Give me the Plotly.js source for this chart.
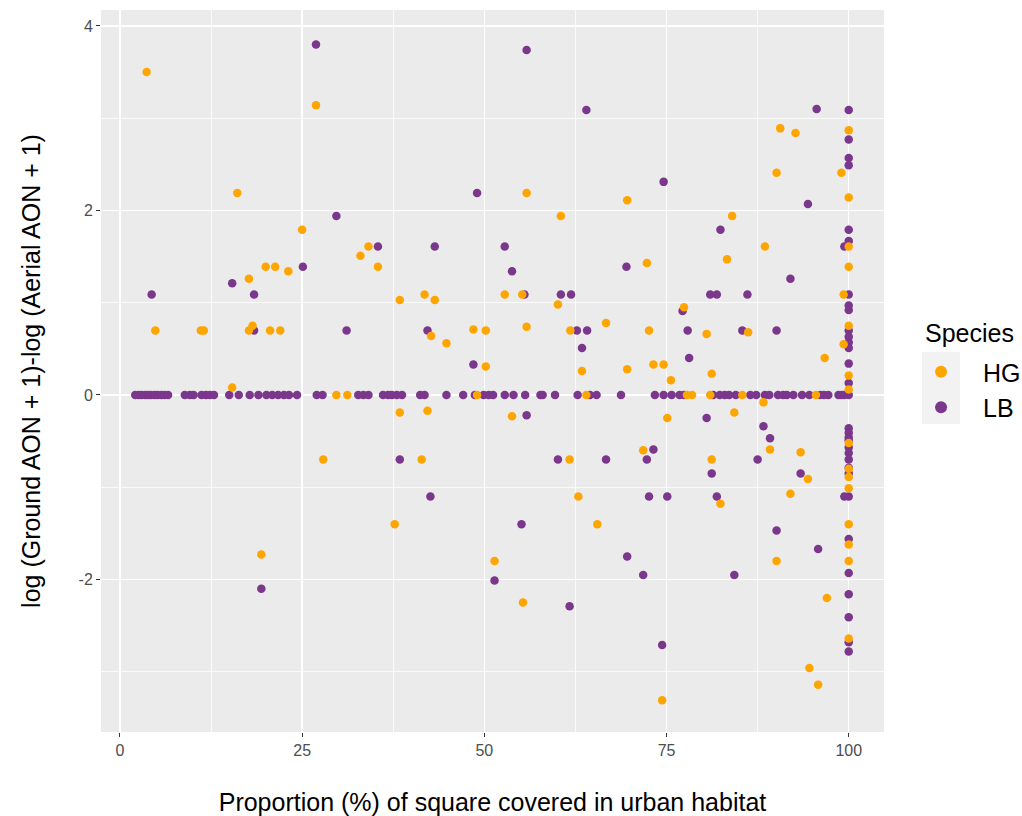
<!DOCTYPE html>
<html>
<head>
<meta charset="utf-8">
<script src="https://cdn.plot.ly/plotly-3.0.1.min.js"></script>
<style>html,body{margin:0;padding:0;background:#fff;}#chart{width:1022px;height:816px;}</style>
</head>
<body>
<div id="chart"></div>
<script>
// Species HG (orange)
const hgX = [3.66, 26.9, 16.1, 25.0, 34.1, 55.8, 69.6, 60.5, 90.6, 92.7, 100, 90.1, 99.0, 100, 84.0, 100, 88.5,
  33.0, 20.0, 21.3, 23.1, 17.7, 4.85, 11.1, 11.5, 17.7, 18.2, 20.6, 22.0, 15.4, 29.7, 31.2, 27.9,
  35.4, 38.4, 41.8, 43.2, 52.8, 55.2, 60.1, 42.7, 44.8, 48.5, 50.2, 55.8, 61.8, 66.7, 50.2, 63.4, 69.6,
  49.0, 64.0, 38.4, 42.2, 53.8, 41.4, 61.7, 100, 72.3, 83.3, 99.3, 77.4, 72.6, 80.5, 86.2, 100, 99.3,
  96.7, 73.2, 74.6, 75.6, 81.2, 100, 100, 77.8, 78.5, 81.0, 85.4, 95.5, 88.3, 84.3, 75.1, 89.2, 93.4,
  71.8, 81.2, 94.4, 100, 100, 100, 100, 19.4, 37.7, 62.9, 65.5, 51.4, 55.3, 82.4, 92.0, 100, 100, 100,
  100, 90.1, 97.0, 94.6, 95.8, 74.4];
const hgY = [3.50, 3.14, 2.19, 1.79, 1.61, 2.19, 2.11, 1.94, 2.89, 2.84, 2.87, 2.41, 2.41, 2.14, 1.94, 1.61, 1.61,
  1.51, 1.39, 1.39, 1.34, 1.26, 0.70, 0.70, 0.70, 0.70, 0.75, 0.70, 0.70, 0.08, 0, 0, -0.70,
  1.39, 1.03, 1.09, 1.03, 1.09, 1.09, 0.98, 0.64, 0.56, 0.71, 0.70, 0.74, 0.70, 0.78, 0.31, 0.26, 0.28,
  0, 0, -0.19, -0.17, -0.23, -0.70, -0.70, 1.39, 1.43, 1.47, 1.09, 0.95, 0.70, 0.66, 0.68, 0.75, 0.55,
  0.40, 0.33, 0.33, 0.16, 0.23, 0.21, 0.06, 0, 0, 0, 0, 0, -0.08, -0.19, -0.25, -0.59, -0.62,
  -0.60, -0.70, -0.91, -0.52, -0.80, -0.89, -1.01, -1.73, -1.40, -1.10, -1.40, -1.80, -2.25, -1.18, -1.07, -1.40, -1.62, -1.80,
  -2.64, -1.80, -2.20, -2.96, -3.14, -3.31];

// Species LB (purple)
const lbX = [26.9, 29.7, 55.8, 64.0, 49.0, 35.4, 43.2, 52.8, 95.6, 100, 100, 100, 100, 74.6, 94.4, 82.4, 100, 100, 99.4,
  25.1, 15.4, 4.35, 18.4, 18.4, 31.1, 53.8, 69.5, 55.5, 60.5, 61.9, 42.2, 62.7, 64.1, 63.4, 48.5, 55.8,
  38.4, 60.1, 66.7, 92.0, 81.0, 81.9, 86.1, 100, 100, 100, 77.2, 77.9, 85.4, 90.1, 100, 100, 100, 100,
  78.1, 100, 100, 80.5, 88.3, 89.2, 73.2, 72.3, 87.5, 81.2, 93.4,
  100, 100, 100, 100, 100, 100, 100, 100, 100,
  19.4, 42.6, 55.1, 69.6, 51.4, 61.7, 72.6, 75.1, 81.9, 99.4, 100,
  100, 100, 100, 100, 100, 100, 90.1, 95.8, 71.8, 84.3, 74.4,
  2.1, 2.6, 3.0, 3.5, 3.9, 4.3, 4.8, 5.2, 5.7, 6.1, 6.6, 8.9, 9.6, 10.1, 11.2, 11.8, 12.35, 12.9,
  15.0, 16.3, 17.8, 19.0, 20.1, 20.9, 21.7, 22.5, 23.2, 24.3, 27.0, 27.8, 32.7, 33.4, 34.1,
  36.1, 36.8, 37.3, 38.0, 38.7, 41.2, 41.8, 44.8, 47.1, 48.7, 49.9, 50.6, 51.2, 52.8, 54.0, 55.6,
  57.7, 58.0, 59.7, 62.8, 64.5, 65.4, 68.75, 73.4, 74.6, 75.7, 76.8, 77.4, 81.4, 82.3, 83.0, 83.6,
  84.5, 86.5, 87.3, 88.5, 89.1, 90.3, 91.0, 91.5, 92.4, 93.6, 94.6, 96.1, 96.6, 97.2, 98.6, 99.0, 99.4, 100];
const lbY = [3.80, 1.94, 3.74, 3.09, 2.19, 1.61, 1.61, 1.61, 3.10, 3.09, 2.77, 2.57, 2.49, 2.31, 2.07, 1.79, 1.79, 1.67, 1.61,
  1.39, 1.21, 1.09, 1.09, 0.70, 0.70, 1.34, 1.39, 1.09, 1.09, 1.09, 0.70, 0.70, 0.70, 0.51, 0.33, -0.22,
  -0.70, -0.70, -0.70, 1.26, 1.09, 1.09, 1.09, 1.09, 0.97, 0.92, 0.91, 0.70, 0.70, 0.70, 0.70, 0.63, 0.57, 0.51,
  0.40, 0.34, 0.13, -0.25, -0.34, -0.47, -0.59, -0.70, -0.70, -0.85, -0.85,
  -0.36, -0.41, -0.46, -0.49, -0.57, -0.63, -0.70, -0.79, -0.85,
  -2.10, -1.10, -1.40, -1.75, -2.01, -2.29, -1.10, -1.10, -1.10, -1.10, -1.10,
  -1.56, -1.93, -2.16, -2.41, -2.68, -2.78, -1.47, -1.67, -1.95, -1.95, -2.71,
  0, 0, 0, 0, 0, 0, 0, 0, 0, 0, 0, 0, 0, 0, 0, 0, 0, 0,
  0, 0, 0, 0, 0, 0, 0, 0, 0, 0, 0, 0, 0, 0, 0,
  0, 0, 0, 0, 0, 0, 0, 0, 0, 0, 0, 0, 0, 0, 0, 0,
  0, 0, 0, 0, 0, 0, 0, 0, 0, 0, 0, 0, 0, 0, 0, 0,
  0, 0, 0, 0, 0, 0, 0, 0, 0, 0, 0, 0, 0, 0, 0, 0, 0, 0];

const xTicks = [0, 25, 50, 75, 100];
const yTicks = [-2, 0, 2, 4];
const legendTitle = 'Species';

const ORANGE = '#FFA500';
const PURPLE = '#7A378B';
const FONT = 'Liberation Sans, Arial, sans-serif';

const traces = [
  {type: 'scatter', mode: 'markers', name: 'LB', x: lbX, y: lbY, legendrank: 2,
   marker: {color: PURPLE, size: 8.5, line: {width: 0}}},
  {type: 'scatter', mode: 'markers', name: 'HG', x: hgX, y: hgY, legendrank: 1,
   marker: {color: ORANGE, size: 8.5, line: {width: 0}}}
];

const layout = {
  width: 1022, height: 816,
  margin: {l: 101, r: 138, t: 10, b: 84},
  paper_bgcolor: '#FFFFFF',
  plot_bgcolor: '#EBEBEB',
  font: {family: FONT, color: '#000'},
  showlegend: true,
  xaxis: {
    range: [-2.6, 104.84], tickvals: xTicks, ticktext: xTicks.map(String),
    showgrid: true, gridcolor: '#FFFFFF', gridwidth: 1.5, zeroline: false,
    minor: {dtick: 12.5, tick0: 0, showgrid: true, gridcolor: '#FFFFFF', gridwidth: 0.8, ticks: ''},
    ticks: 'outside', ticklen: 4, tickcolor: '#333333', tickwidth: 1,
    tickfont: {size: 16, color: '#4D4D4D'},
    showline: false,
    title: {text: 'Proportion (%) of square covered in urban habitat', font: {size: 25, color: '#000'}, standoff: 35}
  },
  yaxis: {
    range: [-3.653, 4.173], tickvals: yTicks, ticktext: yTicks.map(String),
    showgrid: true, gridcolor: '#FFFFFF', gridwidth: 1.5, zeroline: false,
    minor: {dtick: 1, tick0: 0, showgrid: true, gridcolor: '#FFFFFF', gridwidth: 0.8, ticks: ''},
    ticks: 'outside', ticklen: 4, tickcolor: '#333333', tickwidth: 1,
    tickfont: {size: 16, color: '#4D4D4D'},
    showline: false,
    title: {text: 'log (Ground AON + 1)-log (Aerial AON + 1)', font: {size: 25, color: '#000'}, standoff: 30}
  },
  legend: {
    xref: 'container', yref: 'container',
    x: 0.8797, xanchor: 'left', y: 0.5723, yanchor: 'top',
    bgcolor: 'rgba(0,0,0,0)',
    font: {size: 25, color: '#000'},
    itemsizing: 'constant', itemwidth: 74, tracegroupgap: 0
  },
  annotations: [
    {text: legendTitle, xref: 'paper', yref: 'paper', x: 1.0498, y: 0.5526, xanchor: 'left', yanchor: 'middle',
     showarrow: false, font: {size: 25, color: '#000'}}
  ],
  shapes: [
    {type: 'rect', xref: 'paper', yref: 'paper', x0: 1.0485, x1: 1.097, y0: 0.4266, y1: 0.5263,
     fillcolor: '#F2F2F2', line: {width: 0}, layer: 'below'}
  ]
};

Plotly.newPlot('chart', traces, layout, {displayModeBar: false, staticPlot: true});
</script>
</body>
</html>
